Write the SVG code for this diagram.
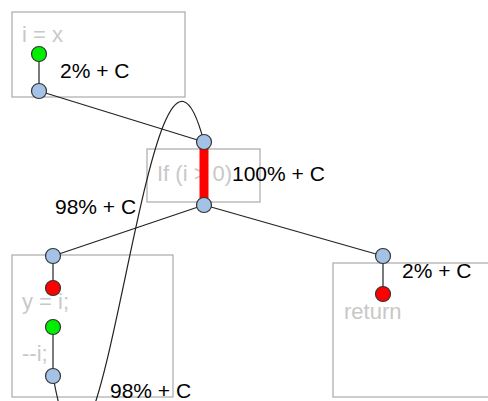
<svg xmlns="http://www.w3.org/2000/svg" width="488" height="401" viewBox="0 0 488 401">
<style>
.box{fill:#fff;stroke:#aaa;stroke-width:1.2}
.code{font-family:"Liberation Sans",Arial,sans-serif;font-size:22px;fill:#c8c8c8}
.lbl{font-family:"Liberation Sans",Arial,sans-serif;font-size:21px;fill:#000}
.edge{fill:none;stroke:#222;stroke-width:1.2}
.blue{fill:#a4c2e6;stroke:#333;stroke-width:1.2}
.green{fill:#00ee00;stroke:#333;stroke-width:1.2}
.red{fill:#ff0000;stroke:#333;stroke-width:1.2}
</style>
<rect width="488" height="401" fill="#fff"/>
<g id="box-init"><rect class="box" x="12" y="12" width="173" height="85"/><text class="code" x="22" y="42">i = x</text></g>
<g id="box-if"><rect class="box" x="147" y="149" width="113" height="53"/><text class="code" x="157" y="181">If (i &gt; 0)</text></g>
<g id="box-loop"><rect class="box" x="12" y="255" width="161" height="142"/><text class="code" x="22" y="309">y = i;</text><text class="code" x="22" y="361">--i;</text></g>
<g id="box-return"><rect class="box" x="333" y="263" width="170" height="134"/><text class="code" x="344" y="319">return</text></g>
<g id="connectors">
<line class="edge" x1="39" y1="54" x2="39" y2="91"/>
<line class="edge" x1="39" y1="91" x2="204" y2="142"/>
<line x1="204" y1="142" x2="204" y2="205" stroke="#ff0000" stroke-width="9"/>
<line class="edge" x1="204" y1="205" x2="53" y2="256"/>
<line class="edge" x1="204" y1="205" x2="383" y2="256"/>
<line class="edge" x1="53" y1="256" x2="53" y2="288"/>
<line class="edge" x1="53" y1="327" x2="53" y2="376"/>
<line class="edge" x1="383" y1="256" x2="383" y2="294"/>
<path class="edge" d="M53,376 C100,640 148,-72 204,142"/>
</g>
<g id="nodes">
<circle class="green" cx="39" cy="54" r="7.5"/>
<circle class="blue" cx="39" cy="91" r="7.5"/>
<circle class="blue" cx="204" cy="142" r="7.5"/>
<circle class="blue" cx="204" cy="205" r="7.5"/>
<circle class="blue" cx="53" cy="256" r="7.5"/>
<circle class="red" cx="53" cy="288" r="7.5"/>
<circle class="green" cx="53" cy="327" r="7.5"/>
<circle class="blue" cx="53" cy="376" r="7.5"/>
<circle class="blue" cx="383" cy="256" r="7.5"/>
<circle class="red" cx="383" cy="294" r="7.5"/>
</g>
<g id="labels">
<text class="lbl" x="60" y="78" font-size="22">2% + C</text>
<text class="lbl" x="232" y="181">100% + C</text>
<text class="lbl" x="55" y="214">98% + C</text>
<text class="lbl" x="110" y="398">98% + C</text>
<text class="lbl" x="402" y="278">2% + C</text>
</g>
</svg>
